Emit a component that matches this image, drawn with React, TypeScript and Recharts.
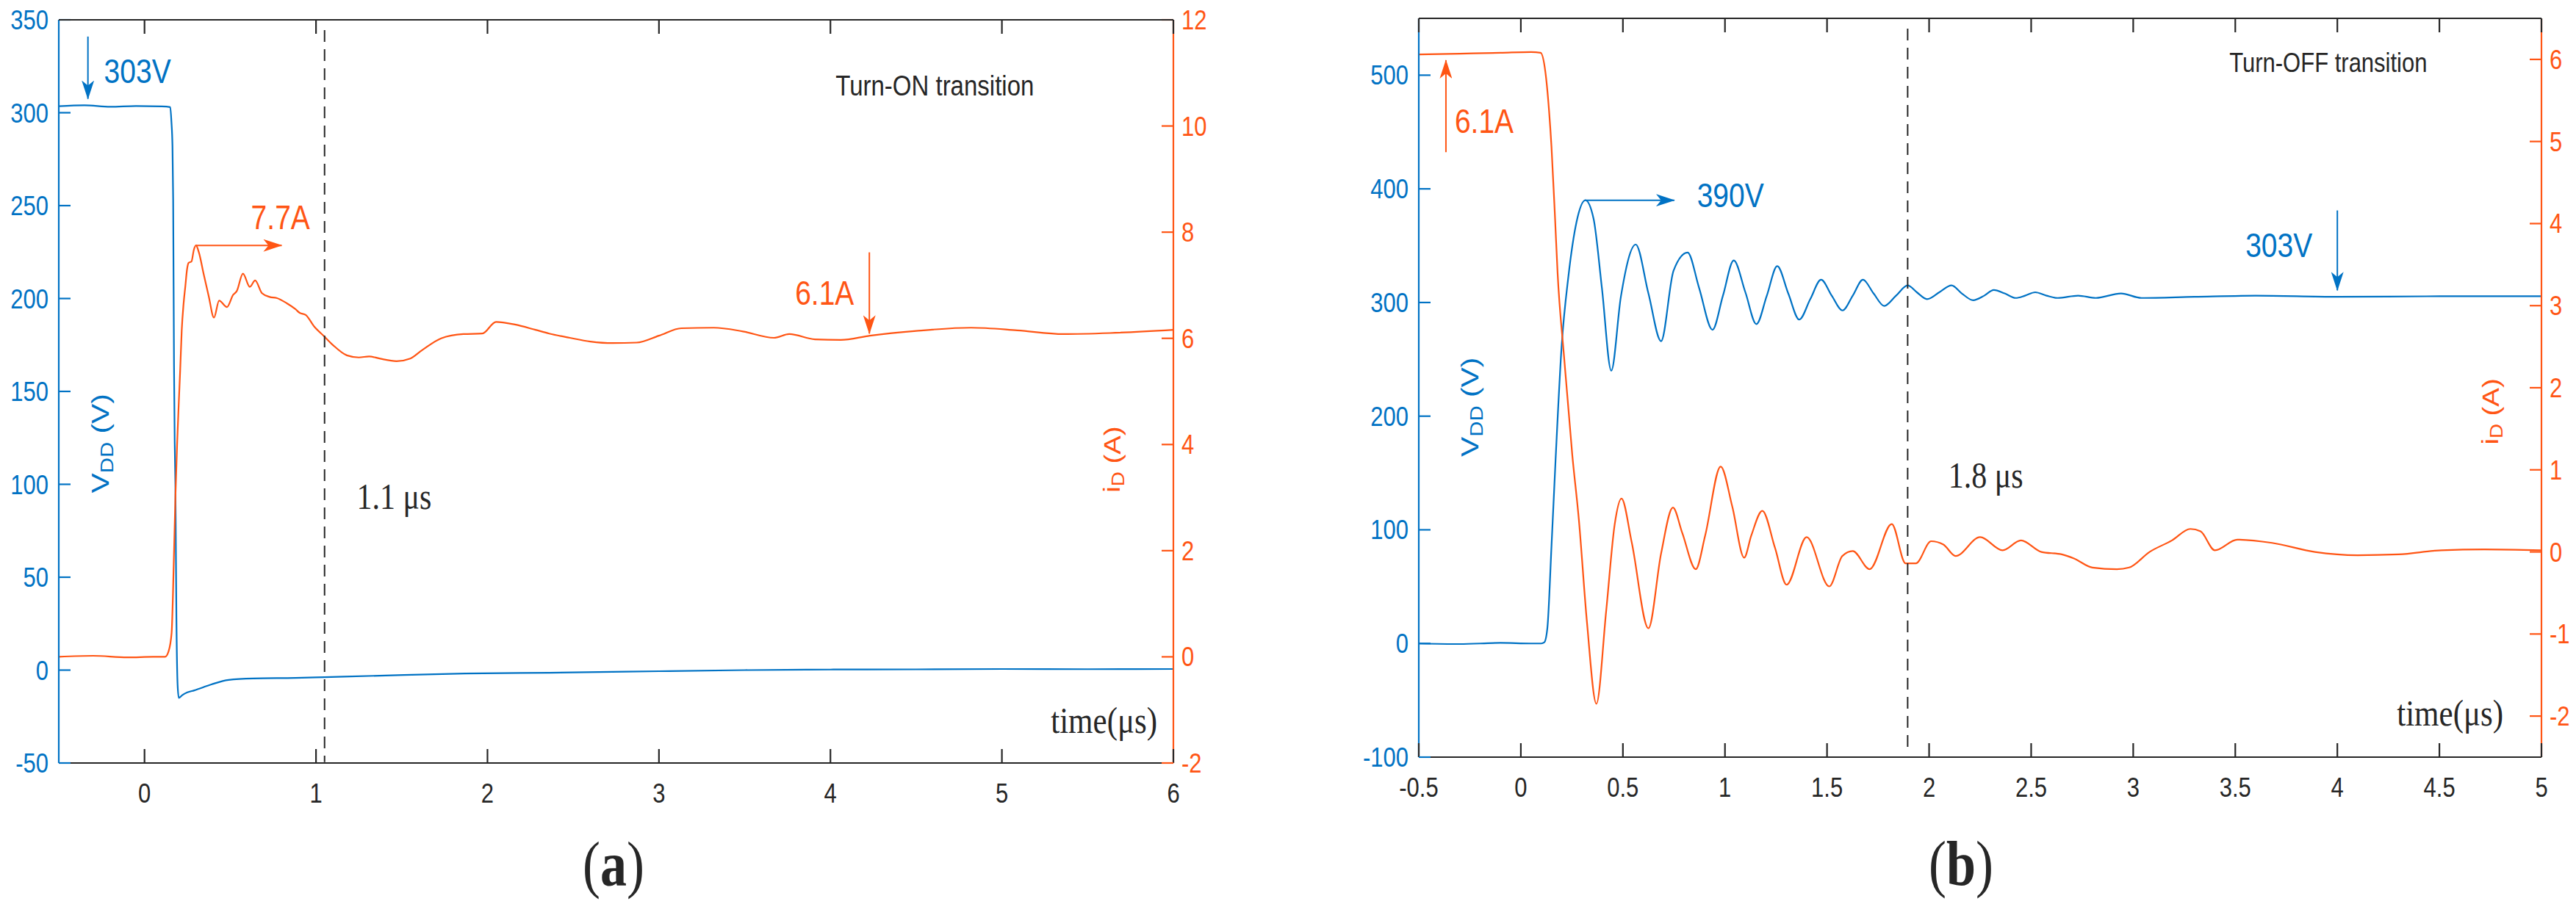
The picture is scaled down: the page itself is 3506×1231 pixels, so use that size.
import React from 'react';
import { LineChart, Line, XAxis, YAxis, ReferenceLine, ReferenceDot } from 'recharts';

const BLUE = '#0072C4';
const ORANGE = '#FF5514';
const INK = '#262626';
const SANS = '"Liberation Sans", Arial, sans-serif';
const SERIF = '"Liberation Serif", "Times New Roman", serif';
const SY = 1.2; // the original figure is stretched vertically

// (a) turn-on transition
const onVddTime = [-0.5, -0.35, -0.2, -0.05, 0.1, 0.15, 0.157, 0.163, 0.167, 0.172, 0.176, 0.18, 0.186, 0.193, 0.2, 0.22, 0.25, 0.29, 0.39, 0.49, 0.635, 0.88, 1.05, 1.37, 1.87, 2.36, 3.0, 3.5, 4.0, 4.5, 5.0, 5.5, 6.0];
const onVddVolts = [303.5, 304, 303.2, 303.6, 303.4, 303, 295, 282, 253, 164, 123, 100, 28, -8, -15, -13.5, -12, -10.9, -7.7, -5.3, -4.5, -4.2, -3.8, -3, -1.8, -1.4, -0.6, 0, 0.3, 0.4, 0.6, 0.5, 0.6];
const onIdTime = [-0.5, -0.3, -0.1, 0.05, 0.12, 0.14, 0.158, 0.17, 0.18, 0.19, 0.2, 0.208, 0.217, 0.228, 0.238, 0.248, 0.257, 0.274, 0.288, 0.3, 0.317, 0.345, 0.374, 0.405, 0.435, 0.481, 0.517, 0.538, 0.574, 0.614, 0.645, 0.685, 0.73, 0.77, 0.83, 0.88, 0.905, 0.94, 0.99, 1.05, 1.1, 1.18, 1.25, 1.31, 1.37, 1.47, 1.55, 1.62, 1.73, 1.86, 1.97, 2.05, 2.16, 2.28, 2.36, 2.48, 2.6, 2.73, 2.87, 3.0, 3.13, 3.32, 3.49, 3.67, 3.76, 3.91, 4.06, 4.23, 4.5, 4.82, 5.09, 5.36, 5.63, 6.0];
const onIdAmps = [0.0, 0.02, -0.01, 0.0, 0.0, 0.1, 0.45, 1.7, 3.0, 4.0, 4.8, 5.4, 6.15, 6.66, 6.98, 7.3, 7.42, 7.45, 7.67, 7.75, 7.62, 7.21, 6.8, 6.39, 6.71, 6.59, 6.82, 6.89, 7.22, 6.97, 7.09, 6.85, 6.78, 6.76, 6.66, 6.55, 6.48, 6.44, 6.22, 6.03, 5.87, 5.68, 5.64, 5.66, 5.62, 5.57, 5.62, 5.78, 6.0, 6.08, 6.09, 6.31, 6.26, 6.16, 6.09, 6.01, 5.94, 5.91, 5.92, 6.05, 6.19, 6.2, 6.13, 6.01, 6.08, 5.98, 5.97, 6.05, 6.14, 6.2, 6.15, 6.08, 6.1, 6.16];
const onTimeTicks = [0, 1, 2, 3, 4, 5, 6];
const onVoltTicks = [-50, 0, 50, 100, 150, 200, 250, 300, 350];
const onAmpTicks = [-2, 0, 2, 4, 6, 8, 10, 12];

// (b) turn-off transition
const offVddTime = [-0.5, -0.3, -0.1, 0.05, 0.1, 0.115, 0.13, 0.15, 0.17, 0.2, 0.233, 0.273, 0.316, 0.356, 0.397, 0.443, 0.49, 0.563, 0.625, 0.687, 0.748, 0.817, 0.873, 0.939, 0.99, 1.043, 1.1, 1.154, 1.205, 1.256, 1.31, 1.364, 1.418, 1.471, 1.523, 1.576, 1.626, 1.676, 1.728, 1.78, 1.838, 1.895, 1.94, 1.99, 2.05, 2.11, 2.16, 2.216, 2.27, 2.317, 2.37, 2.424, 2.47, 2.52, 2.575, 2.63, 2.73, 2.817, 2.94, 3.04, 3.3, 3.6, 4.0, 4.5, 5.0];
const offVddVolts = [0, -0.5, 0.5, 0, 0, 1, 13.6, 85, 161, 262, 323, 371, 390, 374, 313, 240, 305, 351, 308, 266, 328, 344, 313, 276, 306, 337, 309, 281, 306, 332, 308, 285, 303, 320, 306, 293, 306, 320, 308, 297, 306, 315, 309, 303, 309, 315, 308, 302, 306, 311, 308, 304, 306, 309, 306, 304, 306, 304, 308, 304, 305, 306, 305, 305.5, 305.5];
const offIdTime = [-0.5, -0.3, -0.1, 0.05, 0.097, 0.12, 0.138, 0.15, 0.168, 0.18, 0.212, 0.252, 0.284, 0.324, 0.37, 0.418, 0.46, 0.493, 0.543, 0.625, 0.687, 0.745, 0.791, 0.857, 0.903, 0.979, 1.036, 1.094, 1.129, 1.183, 1.245, 1.302, 1.4, 1.511, 1.575, 1.626, 1.709, 1.817, 1.885, 1.935, 2.01, 2.07, 2.13, 2.25, 2.36, 2.45, 2.55, 2.65, 2.71, 2.8, 2.92, 2.98, 3.08, 3.19, 3.28, 3.33, 3.4, 3.51, 3.68, 3.89, 4.1, 4.3, 4.51, 4.72, 5.0];
const offIdAmps = [6.06, 6.07, 6.08, 6.09, 6.08, 5.85, 5.38, 4.94, 4.04, 3.4, 2.37, 1.18, 0.4, -0.86, -1.85, -0.72, 0.34, 0.65, 0.12, -0.93, -0.02, 0.54, 0.23, -0.21, 0.2, 1.04, 0.55, -0.07, 0.2, 0.5, 0.05, -0.4, 0.18, -0.42, -0.05, 0.01, -0.21, 0.34, -0.14, -0.14, 0.13, 0.09, -0.05, 0.18, 0.02, 0.14, 0.0, -0.03, -0.08, -0.19, -0.21, -0.19, 0.0, 0.14, 0.28, 0.25, 0.02, 0.15, 0.11, 0.0, -0.04, -0.03, 0.02, 0.03, 0.02];
const offTimeTicks = [-0.5, 0, 0.5, 1, 1.5, 2, 2.5, 3, 3.5, 4, 4.5, 5];
const offVoltTicks = [-100, 0, 100, 200, 300, 400, 500];
const offAmpTicks = [-2, -1, 0, 1, 2, 3, 4, 5, 6];

const zip = (ts: number[], vs: number[]) => ts.map((t, i) => ({ t, y: vs[i] }));

const onVdd = zip(onVddTime, onVddVolts);
const onId = zip(onIdTime, onIdAmps);
const offVdd = zip(offVddTime, offVddVolts);
const offId = zip(offIdTime, offIdAmps);

// plot boxes that follow from the chart sizes and margins below
const BOX_A = { left: 80, right: 1597, top: 27, t0: -0.5, t1: 6 };
const BOX_B = { left: 1931, right: 3459, top: 25, t0: -0.5, t1: 5 };

type TxtProps = {
  x: number;
  y: number;
  size: number;
  fill?: string;
  font?: string;
  anchor?: 'start' | 'middle' | 'end';
  children: React.ReactNode;
};

const Txt = ({ x, y, size, fill = INK, font = SANS, anchor = 'start', children }: TxtProps) => (
  <text
    transform={`translate(${x},${y}) scale(1,${SY})`}
    textAnchor={anchor}
    dominantBaseline="central"
    fill={fill}
    fontSize={size}
    fontFamily={font}
  >
    {children}
  </text>
);

// rotated axis name like V_DD (V)
const AxisName = ({ x, y, fill, main, sub, unit, size }: any) => (
  <text
    transform={`translate(${x},${y}) rotate(-90) scale(${SY},1)`}
    textAnchor="middle"
    dominantBaseline="central"
    fill={fill}
    fontSize={size}
    fontFamily={SANS}
  >
    {main}
    <tspan fontSize={size * 0.72} dy={size * 0.28}>{sub}</tspan>
    <tspan dy={-size * 0.28}>{' ' + unit}</tspan>
  </text>
);

const note = (draw: (x: number, y: number) => React.ReactNode) => (p: any) => <g>{draw(p.cx, p.cy)}</g>;

const arrow = (color: string, head: string) => (p: any) => (
  <line x1={p.x1} y1={p.y1} x2={p.x2} y2={p.y2} stroke={color} strokeWidth={2} markerEnd={`url(#${head})`} />
);

const dashed = (p: any) => (
  <line x1={p.x1} y1={p.y1} x2={p.x2} y2={p.y2} stroke={INK} strokeWidth={2} strokeDasharray="16 10" />
);

// ticks point inward, like MATLAB
const bottomTick = (p: any) => (
  <g>
    <line x1={p.x} y1={p.y} x2={p.x} y2={p.y - 19} stroke={INK} strokeWidth={2.2} />
    <Txt x={p.x} y={p.y + 41} size={31} anchor="middle">{String(p.payload.value)}</Txt>
  </g>
);
const leftTick = (color: string) => (p: any) => (
  <g>
    <line x1={p.x} y1={p.y} x2={p.x + 16} y2={p.y} stroke={color} strokeWidth={2.2} />
    <Txt x={p.x - 14} y={p.y} size={31} fill={color} anchor="end">{String(p.payload.value)}</Txt>
  </g>
);
const rightTick = (color: string) => (p: any) => (
  <g>
    <line x1={p.x} y1={p.y} x2={p.x - 16} y2={p.y} stroke={color} strokeWidth={2.2} />
    <Txt x={p.x + 11} y={p.y} size={31} fill={color}>{String(p.payload.value)}</Txt>
  </g>
);

// closing top edge of a MATLAB box, ticks placed from the time tick list
const TopEdge = ({ box, ticks }: { box: typeof BOX_A; ticks: number[] }) => {
  const sx = (t: number) => box.left + ((t - box.t0) / (box.t1 - box.t0)) * (box.right - box.left);
  return (
    <g>
      <line x1={box.left} y1={box.top} x2={box.right} y2={box.top} stroke={INK} strokeWidth={2.2} />
      {ticks.map((t) => (
        <line key={t} x1={sx(t)} y1={box.top} x2={sx(t)} y2={box.top + 19} stroke={INK} strokeWidth={2.2} />
      ))}
    </g>
  );
};

const axisCommon = { tickSize: 0, tickMargin: 0, tickLine: false, interval: 0 as const, allowDataOverflow: true, type: 'number' as const };

const TurnOnChart = () => (
  <LineChart width={1750} height={1231} margin={{ top: 27, right: 73, bottom: 132, left: 0 }}>
    <XAxis {...axisCommon} dataKey="t" domain={[-0.5, 6]} ticks={onTimeTicks} height={60} tick={bottomTick} axisLine={{ stroke: INK, strokeWidth: 2.2 }} />
    <YAxis {...axisCommon} yAxisId="v" domain={[-50, 350]} ticks={onVoltTicks} width={80} tick={leftTick(BLUE)} axisLine={{ stroke: BLUE, strokeWidth: 2.2 }} />
    <YAxis {...axisCommon} yAxisId="i" orientation="right" domain={[-2, 12]} ticks={onAmpTicks} width={80} tick={rightTick(ORANGE)} axisLine={{ stroke: ORANGE, strokeWidth: 2.2 }} />

    <Line data={onVdd} dataKey="y" yAxisId="v" type="monotone" dot={false} stroke={BLUE} strokeWidth={2.2} isAnimationActive={false} />
    <Line data={onId} dataKey="y" yAxisId="i" type="monotone" dot={false} stroke={ORANGE} strokeWidth={2.2} isAnimationActive={false} />

    <ReferenceLine yAxisId="v" segment={[{ x: 1.05, y: 344.5 }, { x: 1.05, y: -49.5 }]} shape={dashed} />

    <ReferenceLine yAxisId="v" segment={[{ x: -0.33, y: 341 }, { x: -0.33, y: 307.5 }]} shape={arrow(BLUE, 'headBlue')} />
    <ReferenceDot yAxisId="v" x={-0.236} y={322.3} r={0} shape={note((x, y) => <Txt x={x} y={y} size={39} fill={BLUE}>303V</Txt>)} />

    <ReferenceLine yAxisId="i" segment={[{ x: 0.3, y: 7.75 }, { x: 0.8, y: 7.75 }]} shape={arrow(ORANGE, 'headOrange')} />
    <ReferenceDot yAxisId="i" x={0.621} y={8.28} r={0} shape={note((x, y) => <Txt x={x} y={y} size={39} fill={ORANGE}>7.7A</Txt>)} />

    <ReferenceLine yAxisId="i" segment={[{ x: 4.227, y: 7.62 }, { x: 4.227, y: 6.09 }]} shape={arrow(ORANGE, 'headOrange')} />
    <ReferenceDot yAxisId="i" x={3.794} y={6.86} r={0} shape={note((x, y) => <Txt x={x} y={y} size={39} fill={ORANGE}>6.1A</Txt>)} />

    <ReferenceDot yAxisId="i" x={4.03} y={10.76} r={0} shape={note((x, y) => <Txt x={x} y={y} size={33}>Turn-ON transition</Txt>)} />
    <ReferenceDot yAxisId="v" x={1.238} y={93.5} r={0} shape={note((x, y) => <Txt x={x} y={y} size={42} font={SERIF}>1.1 μs</Txt>)} />
    <ReferenceDot yAxisId="v" x={5.906} y={-27} r={0} shape={note((x, y) => <Txt x={x} y={y} size={43} font={SERIF} anchor="end">time(μs)</Txt>)} />

    <ReferenceDot yAxisId="v" x={-0.257} y={122} r={0} shape={note((x, y) => <AxisName x={x} y={y} fill={BLUE} main="V" sub="DD" unit="(V)" size={34} />)} />
    <ReferenceDot yAxisId="i" x={5.64} y={3.72} r={0} shape={note((x, y) => <AxisName x={x} y={y} fill={ORANGE} main="i" sub="D" unit="(A)" size={32} />)} />
  </LineChart>
);

const TurnOffChart = () => (
  <LineChart width={1746} height={1231} margin={{ top: 25, right: 0, bottom: 140, left: 61 }}>
    <XAxis {...axisCommon} dataKey="t" domain={[-0.5, 5]} ticks={offTimeTicks} height={60} tick={bottomTick} axisLine={{ stroke: INK, strokeWidth: 2.2 }} />
    <YAxis {...axisCommon} yAxisId="v" domain={[-100, 550]} ticks={offVoltTicks} width={110} tick={leftTick(BLUE)} axisLine={{ stroke: BLUE, strokeWidth: 2.2 }} />
    <YAxis {...axisCommon} yAxisId="i" orientation="right" domain={[-2.5, 6.5]} ticks={offAmpTicks} width={47} tick={rightTick(ORANGE)} axisLine={{ stroke: ORANGE, strokeWidth: 2.2 }} />

    <Line data={offVdd} dataKey="y" yAxisId="v" type="monotone" dot={false} stroke={BLUE} strokeWidth={2.2} isAnimationActive={false} />
    <Line data={offId} dataKey="y" yAxisId="i" type="monotone" dot={false} stroke={ORANGE} strokeWidth={2.2} isAnimationActive={false} />

    <ReferenceLine yAxisId="v" segment={[{ x: 1.895, y: 541 }, { x: 1.895, y: -95 }]} shape={dashed} />

    <ReferenceLine yAxisId="i" segment={[{ x: -0.367, y: 4.87 }, { x: -0.367, y: 5.99 }]} shape={arrow(ORANGE, 'headOrange')} />
    <ReferenceDot yAxisId="i" x={-0.324} y={5.25} r={0} shape={note((x, y) => <Txt x={x} y={y} size={39} fill={ORANGE}>6.1A</Txt>)} />

    <ReferenceLine yAxisId="v" segment={[{ x: 0.316, y: 390 }, { x: 0.752, y: 390 }]} shape={arrow(BLUE, 'headBlue')} />
    <ReferenceDot yAxisId="v" x={0.863} y={394.7} r={0} shape={note((x, y) => <Txt x={x} y={y} size={39} fill={BLUE}>390V</Txt>)} />

    <ReferenceLine yAxisId="v" segment={[{ x: 4.0, y: 381 }, { x: 4.0, y: 310.7 }]} shape={arrow(BLUE, 'headBlue')} />
    <ReferenceDot yAxisId="v" x={3.55} y={350.8} r={0} shape={note((x, y) => <Txt x={x} y={y} size={39} fill={BLUE}>303V</Txt>)} />

    <ReferenceDot yAxisId="i" x={3.471} y={5.96} r={0} shape={note((x, y) => <Txt x={x} y={y} size={31}>Turn-OFF transition</Txt>)} />
    <ReferenceDot yAxisId="i" x={2.094} y={0.93} r={0} shape={note((x, y) => <Txt x={x} y={y} size={42} font={SERIF}>1.8 μs</Txt>)} />
    <ReferenceDot yAxisId="i" x={4.813} y={-1.96} r={0} shape={note((x, y) => <Txt x={x} y={y} size={43} font={SERIF} anchor="end">time(μs)</Txt>)} />

    <ReferenceDot yAxisId="v" x={-0.252} y={208} r={0} shape={note((x, y) => <AxisName x={x} y={y} fill={BLUE} main="V" sub="DD" unit="(V)" size={34} />)} />
    <ReferenceDot yAxisId="i" x={4.748} y={1.71} r={0} shape={note((x, y) => <AxisName x={x} y={y} fill={ORANGE} main="i" sub="D" unit="(A)" size={32} />)} />
  </LineChart>
);

export default function App() {
  return (
    <div style={{ position: 'relative', width: 3506, height: 1231, background: '#fff' }}>
      <style>{'body{margin:0}'}</style>
      <svg width={0} height={0} style={{ position: 'absolute' }}>
        <defs>
          <marker id="headBlue" viewBox="0 0 26 17" refX={25} refY={8.5} markerWidth={26} markerHeight={17} markerUnits="userSpaceOnUse" orient="auto">
            <path d="M0,0 L26,8.5 L0,17 L7,8.5 Z" fill={BLUE} />
          </marker>
          <marker id="headOrange" viewBox="0 0 26 17" refX={25} refY={8.5} markerWidth={26} markerHeight={17} markerUnits="userSpaceOnUse" orient="auto">
            <path d="M0,0 L26,8.5 L0,17 L7,8.5 Z" fill={ORANGE} />
          </marker>
        </defs>
      </svg>
      <div style={{ position: 'absolute', left: 0, top: 0 }}>
        <TurnOnChart />
      </div>
      <div style={{ position: 'absolute', left: 1760, top: 0 }}>
        <TurnOffChart />
      </div>
      <svg width={3506} height={1231} style={{ position: 'absolute', left: 0, top: 0, pointerEvents: 'none' }}>
        <TopEdge box={BOX_A} ticks={onTimeTicks} />
        <TopEdge box={BOX_B} ticks={offTimeTicks} />
        <Txt x={835} y={1177} size={72} font={SERIF} anchor="middle">
          (<tspan fontWeight="bold">a</tspan>)
        </Txt>
        <Txt x={2669} y={1176} size={72} font={SERIF} anchor="middle">
          (<tspan fontWeight="bold">b</tspan>)
        </Txt>
      </svg>
    </div>
  );
}
